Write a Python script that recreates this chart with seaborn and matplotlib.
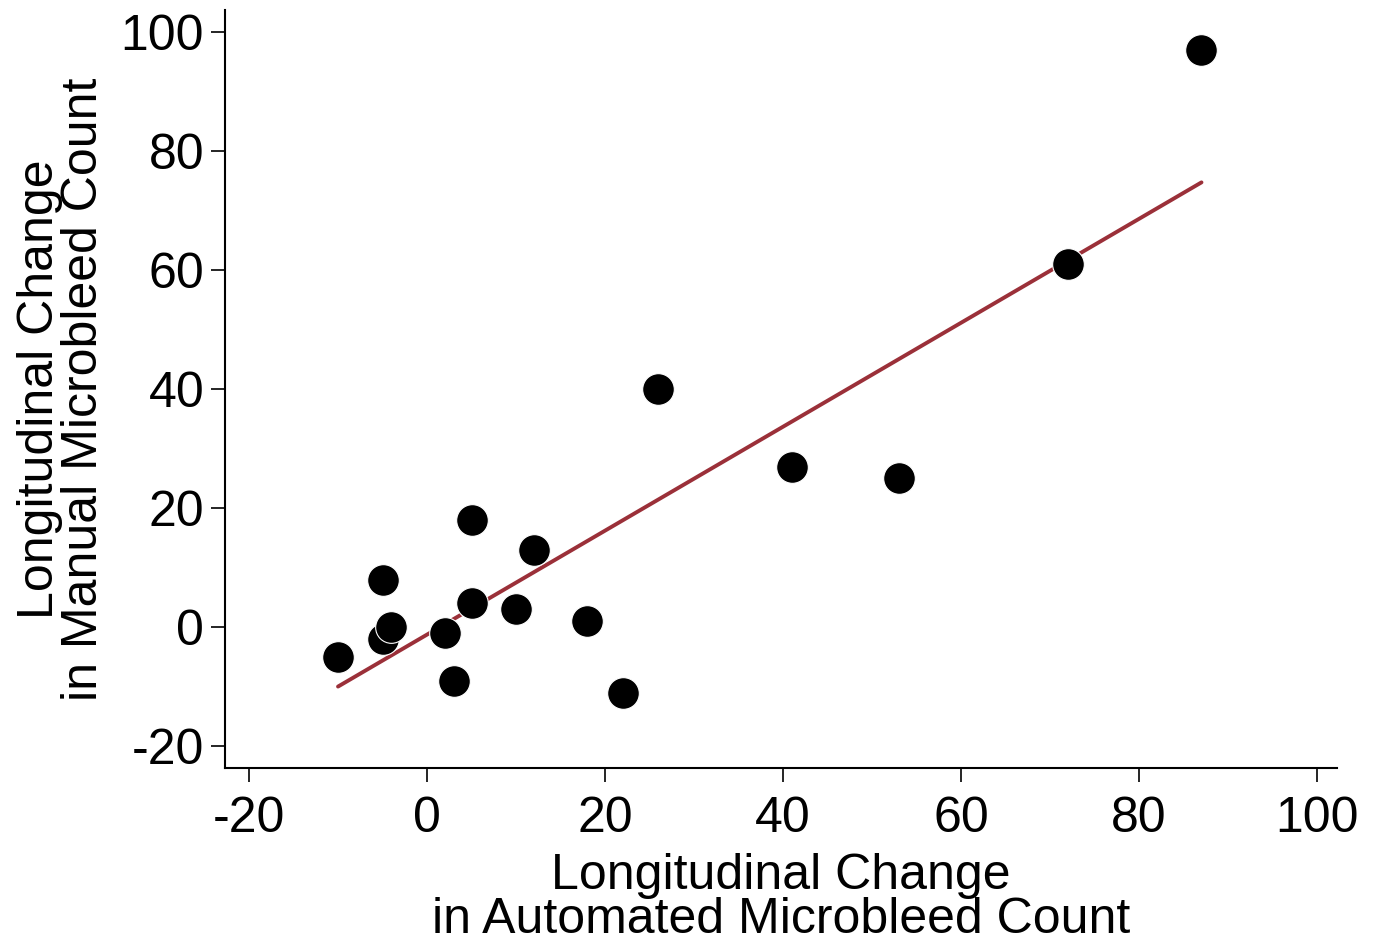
import numpy as np
import pandas as pd
import matplotlib
matplotlib.use('Agg')
import matplotlib.pyplot as plt
import seaborn as sns

sns.set_style('ticks')
plt.rcParams['font.family'] = ['Liberation Sans', 'DejaVu Sans']
plt.rcParams['axes.unicode_minus'] = False

# change in automated vs manual microbleed count
automated = [-10, -5, -5, -4, 2, 3, 5, 5, 10, 12, 18, 22, 26, 41, 53, 72, 87]
manual = [-5, 8, -2, 0, -1, -9, 18, 4, 3, 13, 1, -11, 40, 27, 25, 61, 97]
x_ticks = [-20, 0, 20, 40, 60, 80, 100]
y_ticks = [-20, 0, 20, 40, 60, 80, 100]

df = pd.DataFrame({'auto': automated, 'manual': manual})

# linear fit
slope, intercept = np.polyfit(df['auto'], df['manual'], 1)
fit = pd.DataFrame({'x': [df['auto'].min(), df['auto'].max()]})
fit['y'] = slope * fit['x'] + intercept

fig = plt.figure(figsize=(13.76, 9.46), dpi=100)
ax = fig.add_axes([0.1635, 0.188, 0.808, 0.801])

sns.lineplot(data=fit, x='x', y='y', color='#9b3039', linewidth=2.8, ax=ax, zorder=2)
sns.scatterplot(data=df, x='auto', y='manual', color='black', s=520,
                edgecolor='white', linewidth=0.8, ax=ax, zorder=3)

ax.set_xlim(-22.7, 102.2)
ax.set_ylim(-23.7, 103.7)
ax.set_xticks(x_ticks)
ax.set_yticks(y_ticks)
ax.tick_params(axis='both', labelsize=36, length=10, width=1.2, direction='out',
               color='black', labelcolor='black')
ax.tick_params(axis='x', pad=10)
ax.tick_params(axis='y', pad=5)
ax.set_xlabel('Longitudinal Change\nin Automated Microbleed Count', fontsize=36,
              linespacing=0.95, labelpad=8, color='black')
ax.set_ylabel('Longitudinal Change\nin Manual Microbleed Count', fontsize=36,
              linespacing=0.95, labelpad=10, color='black')
for s in ['top', 'right']:
    ax.spines[s].set_visible(False)
for s in ['left', 'bottom']:
    ax.spines[s].set_linewidth(1.5)
    ax.spines[s].set_color('black')

plt.savefig('out.png', dpi=100)
plt.close()
